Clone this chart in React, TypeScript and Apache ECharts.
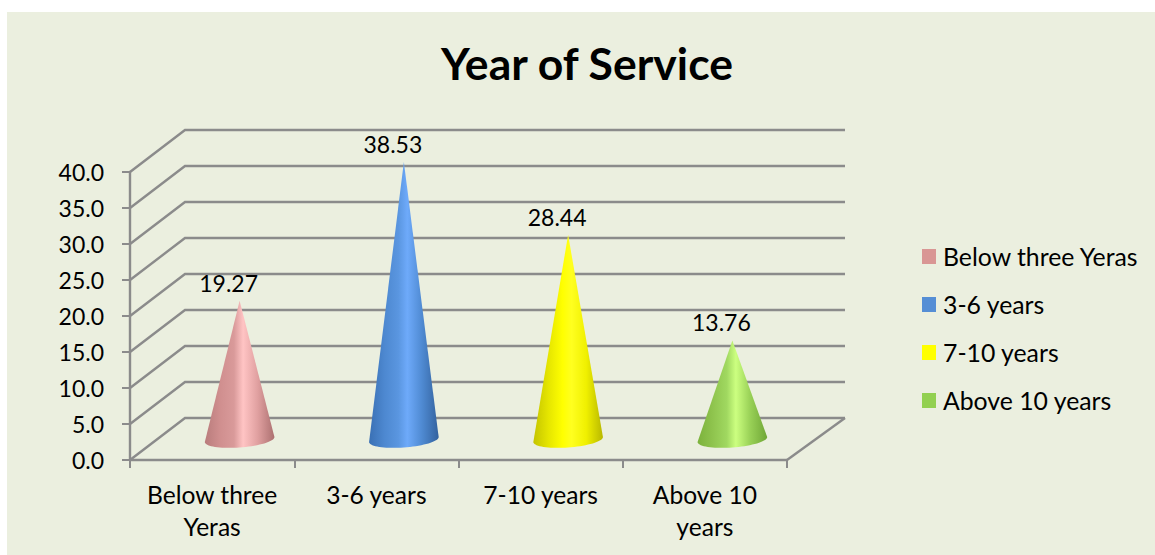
import React, { useEffect, useRef } from "react";
import * as echarts from "echarts";

const chartTitle = "Year of Service";
const categories = ["Below three\nYeras", "3-6 years", "7-10 years", "Above 10\nyears"];
const seriesNames = ["Below three Yeras", "3-6 years", "7-10 years", "Above 10 years"];
const serviceValues = [19.27, 38.53, 28.44, 13.76];
const valueTicks = [0, 5, 10, 15, 20, 25, 30, 35, 40];
const swatchColors = ["#D99694", "#558ED5", "#FFFF00", "#92D050"];
const coneShades = [
  ["#b97c7c", "#d08f8f", "#d99a9a", "#ffc4c4", "#e0a0a0", "#ac7070"],
  ["#3a70b4", "#4d88d0", "#5a96e0", "#6eaafa", "#4f8ad2", "#33629e"],
  ["#c4c400", "#e6e600", "#ffff00", "#ffff20", "#f0f000", "#b8b800"],
  ["#7cb23c", "#8fc44e", "#a0d860", "#ccff80", "#98d056", "#6fa636"],
];

const FONT = "Lato, Carlito, Calibri, sans-serif";
const GRID_COLOR = "#8b8b8b";
const DEPTH_X = 55;
const DEPTH_Y = 42;
const RIGHT_EDGE = 845;

// Back wall, side wall and floor of the box, one set of strokes per value tick.
const wallItem = (_: any, api: any) => {
  const value = api.value(0);
  const band = api.size([1, 0])[0];
  const [firstCenter, fy] = api.coord([0, value]);
  const [lastCenter] = api.coord([3, 0]);
  const fx = firstCenter - band / 2;
  const frontRight = lastCenter + band / 2;
  const stroke = { stroke: GRID_COLOR, lineWidth: 2.4, fill: "none" };
  const children: any[] = [
    {
      type: "polyline",
      shape: { points: [[fx, fy], [fx + DEPTH_X, fy - DEPTH_Y], [RIGHT_EDGE, fy - DEPTH_Y]] },
      style: stroke,
    },
  ];
  if (value === 0) {
    children.push({
      type: "line",
      shape: { x1: frontRight, y1: fy, x2: RIGHT_EDGE, y2: fy - DEPTH_Y },
      style: stroke,
    });
  }
  return { type: "group", children };
};

// A cone standing mid-depth on the floor, its tip at the value's height.
const coneItem = (seriesIndex: number) => (_: any, api: any) => {
  const category = api.value(0);
  const value = api.value(1);
  const [cx, y0] = api.coord([category, 0]);
  const [, yTop] = api.coord([category, value]);
  const x = cx + DEPTH_X / 2;
  const baseY = y0 - DEPTH_Y / 2 + 0.5;
  const tipY = yTop - DEPTH_Y / 2 + 0.5;
  const halfWidth = 34.8;
  const points: number[][] = [[x, tipY]];
  const steps = 36;
  for (let i = 0; i <= steps; i++) {
    const t = (Math.PI * i) / steps;
    points.push([
      x + halfWidth * Math.cos(t),
      baseY - 2.5 * Math.cos(t) + 8 * Math.sin(t),
    ]);
  }
  const shades = coneShades[seriesIndex];
  const stops = [0, 0.22, 0.42, 0.55, 0.76, 1].map((offset, i) => ({ offset, color: shades[i] }));
  return {
    type: "group",
    children: [
      {
        type: "polygon",
        shape: { points },
        style: { fill: new echarts.graphic.LinearGradient(0, 0, 1, 0, stops) },
      },
      {
        type: "text",
        style: {
          x: x - 11,
          y: tipY - 18,
          text: value.toFixed(2),
          align: "center",
          verticalAlign: "middle",
          fontFamily: FONT,
          fontSize: 23,
          fill: "#000",
        },
      },
    ],
  };
};

export default function App() {
  const ref = useRef<HTMLDivElement>(null);

  useEffect(() => {
    document.body.style.margin = "0";
    const chart = echarts.init(ref.current!, null, { renderer: "svg" });
    chart.setOption({
      animation: false,
      backgroundColor: "#ffffff",
      textStyle: { fontFamily: FONT },
      graphic: [
        {
          type: "rect",
          z: -10,
          shape: { x: 7, y: 12, width: 1148, height: 543 },
          style: { fill: "#EBEFDF" },
        },
      ],
      title: {
        text: chartTitle,
        left: 582,
        top: 57,
        textAlign: "center",
        textVerticalAlign: "middle",
        textStyle: { fontFamily: FONT, fontSize: 44.5, fontWeight: "bold", color: "#000" },
      },
      legend: {
        orient: "vertical",
        left: 922,
        top: 244,
        padding: 0,
        itemWidth: 14,
        itemHeight: 15,
        itemGap: 23,
        icon: "rect",
        data: seriesNames,
        textStyle: { fontFamily: FONT, fontSize: 24.8, color: "#000", padding: [0, 0, 0, 2] },
      },
      grid: { left: 130, top: 172, width: 657, height: 288, containLabel: false },
      xAxis: {
        type: "category",
        data: categories,
        axisLine: { lineStyle: { color: GRID_COLOR, width: 2.4 } },
        axisTick: { show: true, length: 8, lineStyle: { color: GRID_COLOR, width: 2 } },
        axisLabel: {
          color: "#000",
          fontFamily: FONT,
          fontSize: 24.6,
          lineHeight: 32,
          margin: 18,
          interval: 0,
        },
      },
      yAxis: {
        type: "value",
        min: 0,
        max: 40,
        interval: 5,
        splitLine: { show: false },
        axisLine: { show: true, lineStyle: { color: GRID_COLOR, width: 2.4 } },
        axisTick: { show: true, length: 8, lineStyle: { color: GRID_COLOR, width: 2 } },
        axisLabel: {
          color: "#000",
          fontFamily: FONT,
          fontSize: 23,
          margin: 26,
          padding: [2, 0, 0, 0],
          formatter: (v: number) => v.toFixed(1),
        },
      },
      series: [
        {
          type: "custom",
          name: "walls",
          silent: true,
          z: 1,
          clip: false,
          renderItem: wallItem,
          encode: { y: 0 },
          data: valueTicks.map((v) => [v]),
        },
        ...seriesNames.map((name, i) => ({
          type: "custom",
          name,
          z: 3,
          clip: false,
          itemStyle: { color: swatchColors[i] },
          renderItem: coneItem(i),
          encode: { x: 0, y: 1 },
          data: [[i, serviceValues[i]]],
        })),
      ],
    });
    return () => chart.dispose();
  }, []);

  return <div ref={ref} style={{ width: 1155, height: 555, position: "absolute", left: 0, top: 0 }} />;
}
